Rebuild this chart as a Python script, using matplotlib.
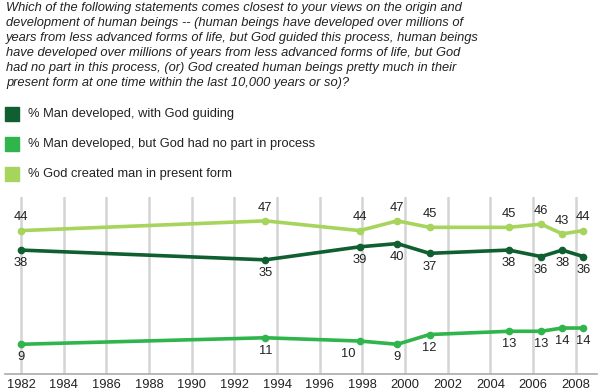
import matplotlib
matplotlib.use("Agg")
import matplotlib.pyplot as plt
from matplotlib.patches import Rectangle

years = [1982.0, 1993.45, 1997.87, 1999.64, 2001.15, 2004.87, 2006.38, 2007.37, 2008.36]
god_guiding = [38, 35, 39, 40, 37, 38, 36, 38, 36]
no_god = [9, 11, 10, 9, 12, 13, 13, 14, 14]
god_created = [44, 47, 44, 47, 45, 45, 46, 43, 44]
tick_years = list(range(1982, 2009, 2))

series_names = ["% Man developed, with God guiding",
                "% Man developed, but God had no part in process",
                "% God created man in present form"]
colors = ["#0f5f30", "#2fb54c", "#a6d45c"]

title = ("Which of the following statements comes closest to your views on the origin and\n"
         "development of human beings -- (human beings have developed over millions of\n"
         "years from less advanced forms of life, but God guided this process, human beings\n"
         "have developed over millions of years from less advanced forms of life, but God\n"
         "had no part in this process, (or) God created human beings pretty much in their\n"
         "present form at one time within the last 10,000 years or so)?")

plt.rcParams['font.family'] = ['Liberation Sans', 'DejaVu Sans']

fig = plt.figure(figsize=(6.01, 3.92), dpi=100)
fig.text(0.010, 0.994, title, ha='left', va='top', style='italic', fontsize=9.3,
         color='#222222', linespacing=1.32)

# legend
leg_y = [114, 144, 174]
for name, c, yy in zip(series_names, colors, leg_y):
    fig.patches.append(Rectangle((5/601, 1 - (yy + 7)/392), 14/601, 14/392,
                                 transform=fig.transFigure, color=c))
    fig.text(28/601, 1 - yy/392, name, ha='left', va='center', fontsize=9.3, color='#222222')

ax = fig.add_axes([5/601, 1 - 373.5/392, 592/601, (373.5 - 196.5)/392])
ax.set_xlim(1981.25, 2009.0)
ax.set_ylim(0, 54.5)
for t in tick_years:
    ax.axvline(t, color='#d4d4d4', lw=1.8, zorder=0)

data = [god_guiding, no_god, god_created]
for vals, c in zip(data, colors):
    ax.plot(years, vals, color=c, lw=2.6, marker='o', ms=4.5, zorder=3)

for i, (x, v) in enumerate(zip(years, god_created)):
    ax.annotate(str(v), (x, v), xytext=(0, 9.5), textcoords='offset points',
                ha='center', va='center', fontsize=9.3, color='#222222')
for i, (x, v) in enumerate(zip(years, god_guiding)):
    ax.annotate(str(v), (x, v), xytext=(0, -9.5), textcoords='offset points',
                ha='center', va='center', fontsize=9.3, color='#222222')
for i, (x, v) in enumerate(zip(years, no_god)):
    dx = -8 if i == 2 else 0
    ax.annotate(str(v), (x, v), xytext=(dx, -9.5), textcoords='offset points',
                ha='center', va='center', fontsize=9.3, color='#222222')

for s in ['top', 'right', 'left']:
    ax.spines[s].set_visible(False)
ax.spines['bottom'].set_color('#aaaaaa')
ax.spines['bottom'].set_linewidth(1.2)
ax.set_yticks([])
ax.set_xticks(tick_years)
ax.set_xticklabels([str(t) for t in tick_years], fontsize=9.3, color='#222222')
ax.tick_params(axis='x', length=0, pad=4)

fig.savefig('out.png', dpi=100)
